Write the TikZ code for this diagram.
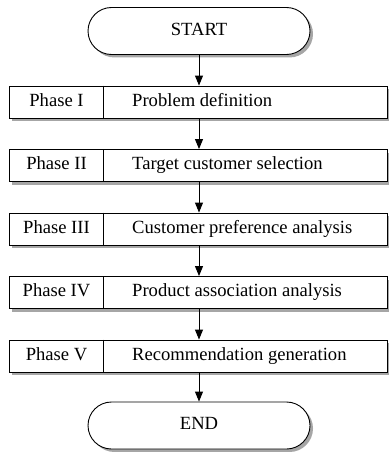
\documentclass[tikz,border=0pt]{standalone}
\usepackage{fontspec}
\setmainfont{Liberation Serif}
\usetikzlibrary{arrows.meta,shadows}
\begin{document}
\begin{tikzpicture}[x=1pt,y=1pt,
  every node/.style={font=\fontsize{18.6}{22}\selectfont, text height=12.5pt, text depth=3.8pt, inner sep=0pt},
  shad/.style={drop shadow={shadow xshift=3pt, shadow yshift=-3pt, fill=black!35, opacity=1}},
  term/.style={draw, line width=0.9pt, fill=white, shad, minimum width=222pt, minimum height=47pt, rounded corners=23.5pt},
  phasebox/.style={draw, line width=0.9pt, fill=white, shad, minimum width=378pt, minimum height=32pt},
  conn/.style={line width=0.9pt, -{Triangle[length=10pt,width=8pt]}}
]
\useasboundingbox (0,0) rectangle (388,-452);
\node[term] (start) at (199,-31) {START};
\node[phasebox] (p1) at (198,-102) {};
\node[phasebox] (p2) at (198,-165.5) {};
\node[phasebox] (p3) at (198,-229) {};
\node[phasebox] (p4) at (198,-292.5) {};
\node[phasebox] (p5) at (198,-356) {};
\node[term] (end) at (199,-425.5) {END};
\foreach \i in {1,...,5}{
  \draw[line width=0.9pt] ([xshift=95pt]p\i.north west) -- ([xshift=95pt]p\i.south west);
}
\node (l1) at (56.5,-102) {Phase I};
\node (l2) at (56.5,-165.5) {Phase II};
\node (l3) at (56.5,-229) {Phase III};
\node (l4) at (56.5,-292.5) {Phase IV};
\node (l5) at (56.5,-356) {Phase V};
\node[anchor=west] (t1) at (132,-102) {Problem definition};
\node[anchor=west] (t2) at (132,-165.5) {Target customer selection};
\node[anchor=west] (t3) at (132,-229) {Customer preference analysis};
\node[anchor=west] (t4) at (132,-292.5) {Product association analysis};
\node[anchor=west] (t5) at (132,-356) {Recommendation generation};
\draw[conn] (start.south) -- (start.south |- p1.north);
\draw[conn] (start.south |- p1.south) -- (start.south |- p2.north);
\draw[conn] (start.south |- p2.south) -- (start.south |- p3.north);
\draw[conn] (start.south |- p3.south) -- (start.south |- p4.north);
\draw[conn] (start.south |- p4.south) -- (start.south |- p5.north);
\draw[conn] (start.south |- p5.south) -- (end.north);
\end{tikzpicture}
\end{document}
